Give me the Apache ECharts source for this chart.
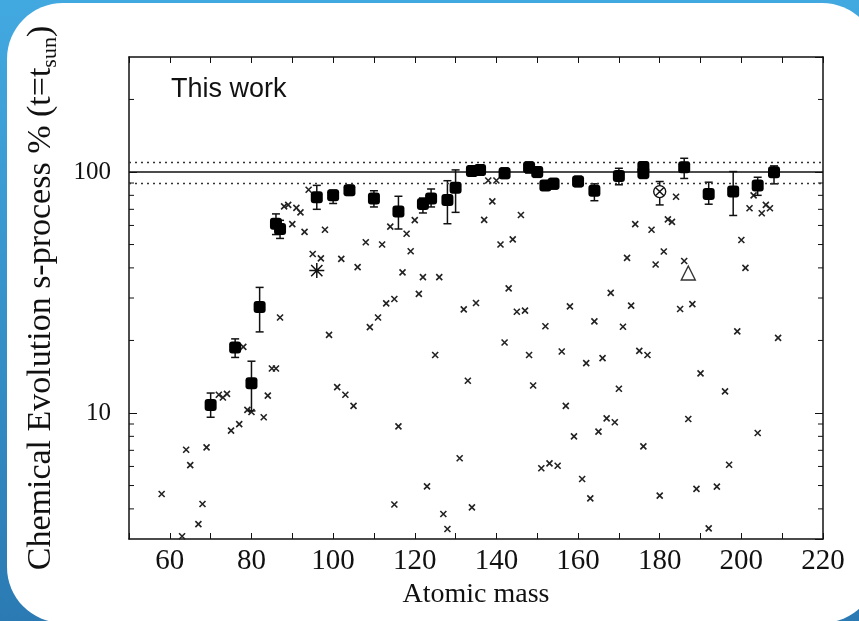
<!DOCTYPE html>
<html><head><meta charset="utf-8">
<script src="https://cdn.jsdelivr.net/npm/echarts@6/dist/echarts.min.js"></script>
<style>
html,body{margin:0;padding:0;width:859px;height:621px;overflow:hidden;}
#bg{position:absolute;left:0;top:0;width:859px;height:621px;background:linear-gradient(to bottom,#42A9E0,#2B7AB3);}
#card{position:absolute;left:7px;top:3px;width:871px;height:620px;border-radius:56px;background:#fff;}
#chart{position:absolute;left:0;top:0;width:859px;height:621px;}
</style></head><body>
<div id="bg"></div><div id="card"></div><div id="chart"></div>
<script>
// ---- data ----
const xTickLabels = [60, 80, 100, 120, 140, 160, 180, 200, 220];
const yTickLabels = [10, 100];
const yMinorTicks = [4, 5, 6, 7, 8, 9, 20, 30, 40, 50, 60, 70, 80, 90, 200];

// "This work" (filled markers with error bars)
const thisWorkMass  = [70, 76, 80, 82, 86, 87, 96, 100, 104, 110, 116, 122, 124, 128, 130, 134, 136, 142, 148, 150, 152, 154, 160, 164, 170, 176, 176, 186, 192, 198, 204, 208];
const thisWorkValue = [10.8, 18.7, 13.3, 27.5, 61, 58, 78.6, 80, 84, 77.7, 68.6, 73.7, 77.7, 76.5, 86, 101, 102, 98.8, 104.6, 100, 87.8, 89.3, 91.3, 83.6, 96.2, 105, 99, 104.6, 81, 82.9, 87.8, 99.7];
const thisWorkLow   = [9.6, 17.0, 10.2, 21.7, 55, 53, 70, 74, 80, 71.6, 58, 67.6, 71.6, 61, 68, 96, 97, 94, 99, 95, 84, 85, 87, 76, 88.5, 100, 94, 94, 73.5, 66, 80, 89.3];
const thisWorkHigh  = [12.1, 20.3, 16.4, 33.2, 67, 63, 88, 84, 88, 83.6, 79.3, 78, 85, 92, 102, 106, 107, 104, 110, 105, 92, 94, 96, 89.3, 103.6, 110, 104, 114, 90.7, 100.4, 95.1, 106];

// other isotopes (small crosses)
const crossMass  = [58, 63, 64, 65, 67, 68, 69, 72, 73, 74, 75, 77, 78, 79, 80, 83, 84, 85, 86, 87, 88, 89, 90, 91, 92, 93, 94, 95, 97, 98, 99, 101, 102, 103, 105, 106, 108, 109, 111, 112, 113, 114, 115, 115, 116, 117, 118, 119, 120, 121, 122, 123, 125, 126, 127, 128, 131, 132, 133, 134, 135, 137, 138, 139, 140, 141, 142, 143, 144, 145, 146, 147, 148, 149, 151, 152, 153, 155, 156, 157, 158, 159, 161, 162, 163, 164, 165, 166, 167, 168, 169, 170, 171, 172, 173, 174, 175, 176, 177, 178, 179, 180, 181, 182, 183, 184, 185, 186, 187, 188, 189, 190, 192, 194, 196, 197, 199, 200, 201, 202, 203, 204, 205, 206, 207, 209];
const crossValue = [4.61, 3.08, 7.04, 6.08, 3.46, 4.19, 7.2, 11.9, 11.6, 12.0, 8.45, 8.99, 18.8, 10.3, 10.1, 9.6, 11.8, 15.3, 15.3, 24.9, 72, 73, 60.8, 71, 68, 56.4, 84.4, 45.7, 43.8, 57.6, 21.1, 12.8, 43.6, 11.9, 10.7, 40.3, 51.1, 22.7, 24.9, 50.0, 28.5, 59.3, 29.7, 4.17, 8.8, 38.3, 55.4, 46.9, 63.1, 31.2, 36.6, 4.96, 17.4, 36.6, 3.81, 3.30, 6.49, 26.9, 13.6, 4.06, 28.6, 63.3, 92.2, 75.5, 92.2, 50.0, 19.6, 32.9, 52.5, 26.3, 66.3, 26.6, 17.4, 13.0, 5.9, 22.9, 6.18, 6.04, 18.0, 10.7, 27.7, 8.0, 5.32, 16.1, 4.42, 24.0, 8.37, 16.9, 9.5, 31.5, 9.15, 12.6, 22.8, 44.0, 27.9, 60.8, 18.1, 7.27, 17.4, 57.6, 41.3, 4.54, 46.8, 63.6, 62.1, 78.9, 27.0, 42.7, 9.44, 28.3, 4.84, 14.6, 3.32, 4.95, 12.3, 6.1, 21.8, 52.2, 40.0, 70.7, 80, 8.26, 67.4, 73.0, 70.7, 20.5];

// special markers
const circMass = [180], circValue = [82.9], circLow = [73], circHigh = [91.3];
const triMass = [187], triValue = [38.1];
const starMass = [96], starValue = [39];

const refLines = [100, 110, 90];
const xMin = 50, xMax = 220, yMin = 3, yMax = 300;

// ---- chart ----
const serif = '"Liberation Serif", "Times New Roman", serif';
const ink = '#111';
const chart = echarts.init(document.getElementById('chart'), null, {renderer: 'canvas'});

const axisLineStyle = {show: true, onZero: false, lineStyle: {color: ink, width: 1.5}};
const fmtX = v => xTickLabels.indexOf(Math.round(v)) >= 0 ? String(Math.round(v)) : '';
const fmtY = v => { const r = Math.round(v); return (yTickLabels.indexOf(r) >= 0 && Math.abs(v - r) < 1e-6) ? String(r) : ''; };

function errRender(params, api) {
  const x = api.value(0), lo = api.value(1), hi = api.value(2);
  const p1 = api.coord([x, lo]), p2 = api.coord([x, hi]);
  const w = 4;
  const st = {stroke: ink, lineWidth: 1.5};
  return {type: 'group', children: [
    {type: 'line', shape: {x1: p1[0], y1: p1[1], x2: p2[0], y2: p2[1]}, style: st},
    {type: 'line', shape: {x1: p1[0]-w, y1: p1[1], x2: p1[0]+w, y2: p1[1]}, style: st},
    {type: 'line', shape: {x1: p2[0]-w, y1: p2[1], x2: p2[0]+w, y2: p2[1]}, style: st}
  ]};
}

function minorRender(params, api) {
  const v = api.value(1);
  const pL = api.coord([xMin, v]), pR = api.coord([xMax, v]);
  const st = {stroke: ink, lineWidth: 1};
  return {type: 'group', children: [
    {type: 'line', shape: {x1: pL[0], y1: pL[1], x2: pL[0]+5, y2: pL[1]}, style: st},
    {type: 'line', shape: {x1: pR[0], y1: pR[1], x2: pR[0]-5, y2: pR[1]}, style: st}
  ]};
}

const option = {
  animation: false,
  backgroundColor: 'transparent',
  grid: {left: 129, right: 36, top: 57, bottom: 82},
  graphic: [{
    type: 'text', left: 171, top: 76, z: 10,
    style: {text: 'This work', fontFamily: '"Liberation Sans", Arial, sans-serif', fontSize: 27, fill: ink}
  }],
  xAxis: [{
    type: 'value', min: xMin, max: xMax, interval: 10, position: 'bottom',
    axisLine: axisLineStyle,
    axisTick: {inside: true, length: 6, lineStyle: {color: ink, width: 1}},
    axisLabel: {margin: 8, fontFamily: serif, fontSize: 29, color: ink, formatter: fmtX},
    splitLine: {show: false},
    name: 'Atomic mass', nameLocation: 'middle', nameGap: 41,
    nameTextStyle: {fontFamily: serif, fontSize: 28, color: ink}
  }, {
    type: 'value', min: xMin, max: xMax, interval: 10, position: 'top',
    axisLine: axisLineStyle,
    axisTick: {inside: true, length: 6, lineStyle: {color: ink, width: 1}},
    axisLabel: {show: false}, splitLine: {show: false}
  }],
  yAxis: [{
    type: 'log', logBase: 10, min: yMin, max: yMax, position: 'left',
    axisLine: axisLineStyle,
    axisTick: {inside: true, length: 8, lineStyle: {color: ink, width: 1}},
    axisLabel: {margin: 18, fontFamily: serif, fontSize: 25, color: ink, formatter: fmtY, showMinLabel: false, showMaxLabel: false},
    splitLine: {show: false}, minorTick: {show: false},
    name: '{a|Chemical Evolution s-process % (t=t}{b|sun}{a|)}',
    nameLocation: 'middle', nameRotate: 90, nameGap: 68,
    nameTextStyle: {rich: {
      a: {fontFamily: serif, fontSize: 34, color: ink, lineHeight: 40, verticalAlign: 'middle'},
      b: {fontFamily: serif, fontSize: 22, color: ink, lineHeight: 22, verticalAlign: 'bottom'}
    }}
  }, {
    type: 'log', logBase: 10, min: yMin, max: yMax, position: 'right',
    axisLine: axisLineStyle,
    axisTick: {inside: true, length: 8, lineStyle: {color: ink, width: 1}},
    axisLabel: {show: false}, splitLine: {show: false}
  }],
  series: [
    {
      type: 'custom', name: 'minor ticks', silent: true, z: 3,
      data: yMinorTicks.map(v => [xMin, v]),
      encode: {x: 0, y: 1},
      renderItem: minorRender
    },
    {
      type: 'scatter', name: 'other', z: 2, silent: true,
      data: crossMass.map((m, i) => [m, crossValue[i]]),
      symbol: 'path://M0,0L10,10M10,0L0,10', symbolSize: 6,
      itemStyle: {color: 'rgba(0,0,0,0)', borderColor: '#222', borderWidth: 1.6, opacity: 1},
      markLine: {
        silent: true, symbol: 'none', label: {show: false},
        data: [
          {yAxis: refLines[0], lineStyle: {type: 'solid', color: ink, width: 1.5, opacity: 1}},
          {yAxis: refLines[1], lineStyle: {type: [2, 4], color: '#333', width: 1.3, opacity: 1}},
          {yAxis: refLines[2], lineStyle: {type: [2, 4], color: '#333', width: 1.3, opacity: 1}}
        ]
      }
    },
    {
      type: 'custom', name: 'errors', silent: true, z: 4,
      data: thisWorkMass.map((m, i) => [m, thisWorkLow[i], thisWorkHigh[i]])
        .concat(circMass.map((m, i) => [m, circLow[i], circHigh[i]])),
      encode: {x: 0, y: [1, 2]},
      renderItem: errRender
    },
    {
      type: 'scatter', name: 'This work', z: 5, silent: true,
      data: thisWorkMass.map((m, i) => [m, thisWorkValue[i]]),
      symbol: 'roundRect', symbolSize: 12,
      itemStyle: {color: '#000', opacity: 1}
    },
    {
      type: 'scatter', name: 'circ', z: 5, silent: true,
      data: circMass.map((m, i) => [m, circValue[i]]),
      symbol: 'path://M10,0A10,10,0,1,1,10,20A10,10,0,1,1,10,0ZM3,3L17,17M17,3L3,17', symbolSize: 12,
      itemStyle: {color: '#fff', borderColor: ink, borderWidth: 1.4, opacity: 1}
    },
    {
      type: 'scatter', name: 'tri', z: 5, silent: true,
      data: triMass.map((m, i) => [m, triValue[i]]),
      symbol: 'triangle', symbolSize: 14,
      itemStyle: {color: 'rgba(0,0,0,0)', borderColor: '#333', borderWidth: 1.4, opacity: 1}
    },
    {
      type: 'scatter', name: 'star', z: 5, silent: true,
      data: starMass.map((m, i) => [m, starValue[i]]),
      symbol: 'path://M0,8L16,8M8,0L8,16M2,2L14,14M14,2L2,14', symbolSize: 15,
      itemStyle: {color: 'rgba(0,0,0,0)', borderColor: ink, borderWidth: 1.5, opacity: 1}
    }
  ]
};
chart.setOption(option);
</script></body></html>
